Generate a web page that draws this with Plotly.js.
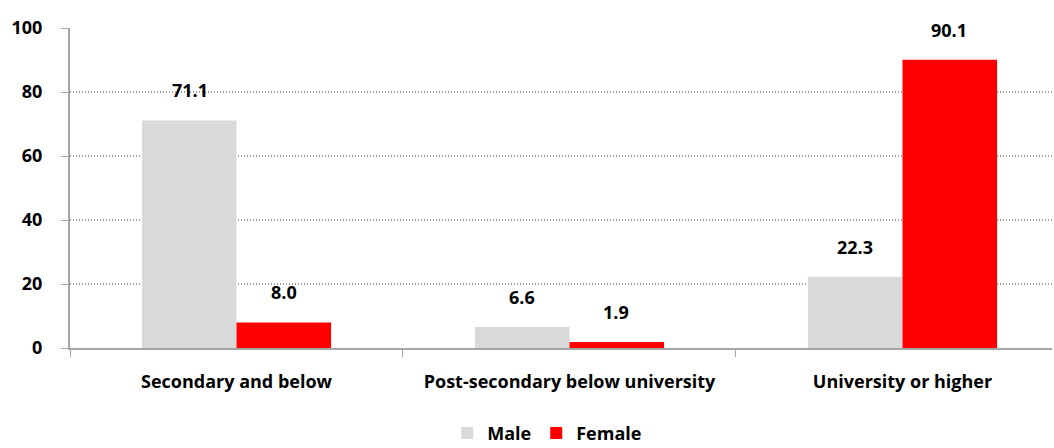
<!DOCTYPE html>
<html><head><meta charset="utf-8">
<script src="https://cdn.plot.ly/plotly-3.0.1.min.js"></script>
<style>body{margin:0;background:#fff}#chart{width:1054px;height:448px}</style>
</head><body><div id="chart"></div>
<script>
const categories = ["Secondary and below", "Post-secondary below university", "University or higher"];
const maleValues = [71.1, 6.6, 22.3];
const femaleValues = [8.0, 1.9, 90.1];
const yTicks = [0, 20, 40, 60, 80, 100];

const font = "'Open Sans', sans-serif";
const tf = {family: font, size: 18, color: "#000", weight: 700};
const traces = [
  {type: "bar", name: "Male", x: categories, y: maleValues, marker: {color: "#d9d9d9"}, hoverinfo: "none"},
  {type: "bar", name: "Female", x: categories, y: femaleValues, marker: {color: "#ff0000"}, hoverinfo: "none"}
];
const annotations = [];
[maleValues, femaleValues].forEach((vals, s) => {
  vals.forEach((v, i) => {
    annotations.push({x: categories[i], y: v, xref: "x", yref: "y", text: v.toFixed(1),
      showarrow: false, xshift: s === 0 ? -47 : 47, yshift: 30, font: tf});
  });
});
const layout = {
  width: 1054, height: 448,
  margin: {l: 70, r: 2, t: 28, b: 100, autoexpand: false},
  paper_bgcolor: "#fff", plot_bgcolor: "#fff",
  barmode: "group", bargap: 0.432, bargroupgap: 0,
  showlegend: true,
  legend: {orientation: "h", x: 0.486, xanchor: "center", yref: "container", y: 0.033, yanchor: "middle",
    font: tf, itemwidth: 30, tracegroupgap: 0},
  xaxis: {type: "category", range: [-0.5, 2.449], tickson: "boundaries", ticks: "outside", ticklen: 7,
    tickcolor: "#a6a6a6", showline: true, linecolor: "#a6a6a6", linewidth: 2, showgrid: false,
    tickfont: tf, ticklabelstandoff: 16, fixedrange: true},
  yaxis: {range: [0, 100], tickvals: yTicks, ticks: "outside", ticklen: 7, tickcolor: "#a6a6a6",
    showline: true, linecolor: "#a6a6a6", linewidth: 2, showgrid: true, gridcolor: "#a0a0a0", griddash: "1px,2px",
    gridwidth: 1.5, zeroline: false, tickfont: tf, ticklabelstandoff: 15, fixedrange: true},
  annotations: annotations
};
Plotly.newPlot("chart", traces, layout, {staticPlot: true});
</script></body></html>
